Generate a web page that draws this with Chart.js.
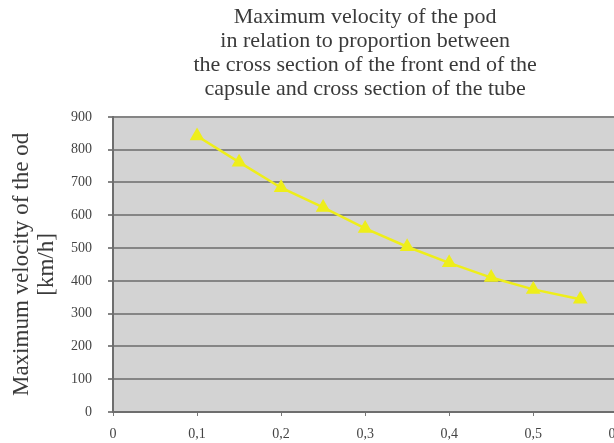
<!DOCTYPE html>
<html lang="en">
<head>
    <meta charset="UTF-8">
    <title>Maximum velocity of the pod</title>
    <script src="https://cdn.jsdelivr.net/npm/chart.js@4.4.1/dist/chart.umd.min.js"></script>
    <style>
        html, body {margin: 0;padding: 0;background: #fff;overflow: hidden;width: 614px;height: 443px;}
        #box {position: absolute;left: 0;top: 0;width: 636px;height: 443px;}
    </style>
</head>
<body>
<div id="box"><canvas id="chart" width="636" height="443"></canvas></div>
<script>
    // proportion of cross sections (x) and max velocity in km/h (y)
    const proportion = [0.1, 0.15, 0.2, 0.25, 0.3, 0.35, 0.4, 0.45, 0.5, 0.556];
    const velocity = [842, 762, 684, 624, 560, 504, 455, 410, 374, 344];
    const titleLines = [
        'Maximum velocity of the pod',
        'in relation to proportion between',
        'the cross section of the front end of the',
        'capsule and cross section of the tube'
    ];
    const yTitle = ['Maximum velocity of the od', '[km/h]'];

    const serif = '"Liberation Serif", "DejaVu Serif", serif';

    // grey plot background
    const plotBg = {
        id: 'plotBg',
        beforeDraw(chart) {
            const a = chart.chartArea, c = chart.ctx;
            c.save();
            c.fillStyle = '#d3d3d3';
            c.fillRect(a.left, a.top, a.right - a.left, a.bottom - a.top);
            c.restore();
        }
    };

    new Chart(document.getElementById('chart'), {
        type: 'line',
        data: {
            datasets: [{
                data: proportion.map((x, i) => ({x: x, y: velocity[i]})),
                borderColor: '#eeee1a',
                backgroundColor: '#eeee1a',
                borderWidth: 2.5,
                pointStyle: 'triangle',
                pointRadius: 6,
                pointHoverRadius: 6,
                tension: 0
            }]
        },
        options: {
            responsive: false,
            animation: false,
            layout: {padding: {left: 0, right: 11, top: 0, bottom: 0}},
            plugins: {
                legend: {display: false},
                tooltip: {enabled: false},
                title: {
                    display: true,
                    fullSize: false,
                    text: titleLines,
                    color: '#3a3a3a',
                    font: {family: serif, size: 22, weight: 'normal', lineHeight: 1.09},
                    padding: {top: 5, bottom: 16}
                }
            },
            scales: {
                x: {
                    type: 'linear',
                    min: 0,
                    max: 0.6,
                    afterFit: s => { s.height = 31; },
                    ticks: {
                        stepSize: 0.1,
                        padding: 10,
                        color: '#444',
                        font: {family: serif, size: 14},
                        maxRotation: 0,
                        callback: v => v === 0 ? '0' : v.toFixed(1).replace('.', ',')
                    },
                    grid: {display: true, drawOnChartArea: false, drawTicks: true, tickLength: 4, color: '#777', lineWidth: 1},
                    border: {display: true, color: '#6e6e6e', width: 2}
                },
                y: {
                    min: 0,
                    max: 900,
                    afterFit: s => { s.width = 113; },
                    ticks: {
                        stepSize: 100,
                        padding: 16,
                        color: '#444',
                        font: {family: serif, size: 14}
                    },
                    grid: {color: '#858585', lineWidth: 2, tickLength: 5},
                    border: {display: true, color: '#6e6e6e', width: 2},
                    title: {
                        display: true,
                        text: yTitle,
                        color: '#3a3a3a',
                        font: {family: serif, size: 23, lineHeight: 1.1},
                        padding: {top: 9, bottom: 0}
                    }
                }
            }
        },
        plugins: [plotBg]
    });
</script>
</body>
</html>
